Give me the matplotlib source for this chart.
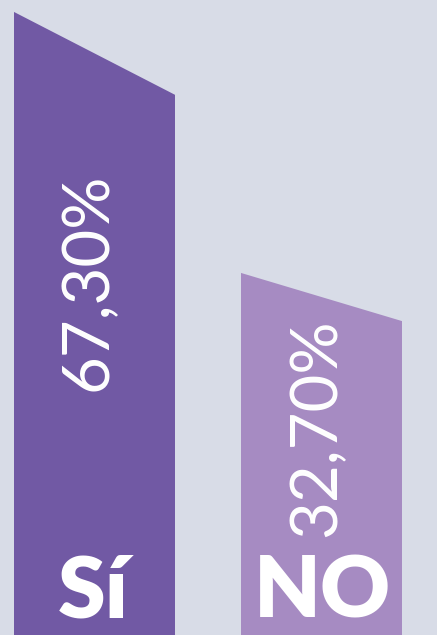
import matplotlib.pyplot as plt
from matplotlib.patches import Polygon

labels = ['Sí', 'NO']
values = [67.30, 32.70]
value_text = ['67,30%', '32,70%']
colors = ['#7159a4', '#a68bc2']
bg = '#d8dce7'

base = -15.3      # bottom of the bars (below the 0 line)
slant = 0.867     # right edge is this fraction of the left edge height
k = 7.543         # pixels per data unit

fig = plt.figure(figsize=(4.37, 6.35), dpi=100)
fig.patch.set_facecolor(bg)
ax = fig.add_axes([0, 0, 1, 1])
ax.set_facecolor(bg)
ax.set_xlim(0, 437)
ax.set_ylim(base, base + 635 / k)
ax.axis('off')

def py(p):
    # pixel row from top -> data y
    return base + (635 - p) / k

lefts = [14, 241]
width = 161
text_x = [88, 317]
text_y = [282, 428]
label_x = [93, 322]
for i in range(2):
    x0 = lefts[i]
    x1 = x0 + width
    yl = values[i]
    yr = base + slant * (values[i] - base)
    ax.add_patch(Polygon([[x0, base], [x0, yl], [x1, yr], [x1, base]],
                         closed=True, fc=colors[i], ec='none'))
    ax.text(text_x[i], py(text_y[i]), value_text[i], rotation=90,
            ha='center', va='center', color='white', fontsize=47,
            family='Lato', fontweight='normal')
    ax.text(label_x[i], py(617), labels[i], ha='center', va='baseline',
            color='white', fontsize=62, family='Lato', fontweight='heavy')

plt.savefig('out.png', dpi=100, facecolor=bg)
plt.close()
